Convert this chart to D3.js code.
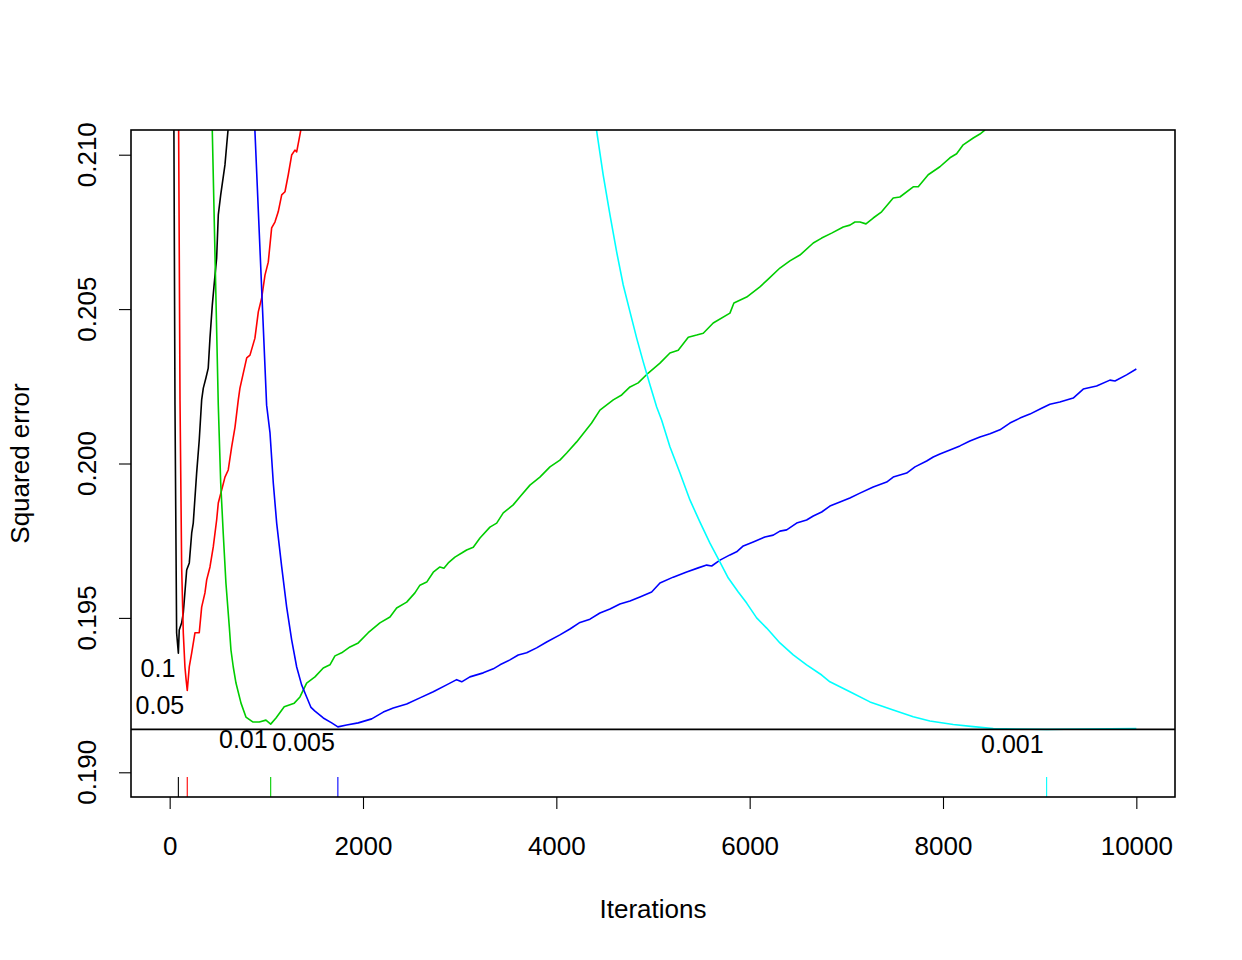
<!DOCTYPE html>
<html><head><meta charset="utf-8">
<script src="https://cdn.jsdelivr.net/npm/d3@7/dist/d3.min.js"></script>
<style>
body{margin:0;background:#fff}
svg{display:block}
text{font-family:"Liberation Sans",Arial,Helvetica,sans-serif;fill:#000}
</style>
</head><body>
<svg id="chart" width="1242" height="960"></svg>
<script>
// ---- data ----
const rates = ["0.1", "0.05", "0.01", "0.005", "0.001"];
const colors = ["#000000", "#FF0000", "#00CD00", "#0000FF", "#00FFFF"];
const xTicks = [0, 2000, 4000, 6000, 8000, 10000];
const yTicks = [0.190, 0.195, 0.200, 0.205, 0.210];
const yTickLabels = ["0.190", "0.195", "0.200", "0.205", "0.210"];
const xTitle = "Iterations";
const yTitle = "Squared error";

// [iteration, squared error]
const err_0_1 = [[43,0.2115],[55,0.20189],[72,0.19451],[86,0.19400],[90,0.19386],[99,0.19461],[124,0.19484],[141,0.19516],[176,0.19655],[203,0.19678],[228,0.19775],[244,0.19807],[279,0.19969],[306,0.20076],[331,0.20206],[348,0.20244],[375,0.20277],[399,0.20309],[417,0.20406],[441,0.20513],[458,0.20572],[486,0.20666],[503,0.20805],[528,0.20870],[572,0.20967],[590,0.21032],[603,0.21077],[640,0.2125]];

const err_0_05 = [[90,0.2125],[107,0.20206],[124,0.19665],[141,0.19451],[158,0.19341],[170,0.19300],[182,0.19265],[203,0.19342],[228,0.19387],[262,0.19452],[306,0.19452],[331,0.19535],[365,0.19581],[383,0.19623],[417,0.19665],[451,0.19730],[486,0.19817],[503,0.19872],[538,0.19914],[572,0.19956],[606,0.19979],[641,0.20053],[676,0.20118],[710,0.20206],[727,0.20244],[797,0.20342],[831,0.20351],[882,0.20406],[917,0.20491],[952,0.20536],[986,0.20610],[1020,0.20652],[1055,0.20763],[1089,0.20782],[1123,0.20815],[1159,0.20870],[1193,0.20880],[1227,0.20935],[1262,0.20999],[1296,0.21015],[1314,0.21009],[1341,0.21054],[1355,0.21077],[1400,0.2115]];

const err_0_01 = [[430,0.2125],[441,0.21077],[503,0.20189],[528,0.19937],[554,0.19775],[582,0.19613],[617,0.19471],[634,0.19396],[658,0.19341],[686,0.19289],[738,0.19224],[789,0.19179],[859,0.19163],[927,0.19163],[996,0.19169],[1045,0.19156],[1100,0.19176],[1185,0.19212],[1289,0.19224],[1348,0.19244],[1417,0.19289],[1503,0.19309],[1589,0.19338],[1658,0.19348],[1710,0.19377],[1779,0.19387],[1865,0.19406],[1951,0.19419],[2054,0.19452],[2175,0.19484],[2279,0.19503],[2348,0.19532],[2452,0.19551],[2537,0.19581],[2589,0.19606],[2659,0.19616],[2727,0.19648],[2796,0.19665],[2837,0.19661],[2882,0.19678],[2951,0.19697],[3021,0.19710],[3072,0.19720],[3141,0.19729],[3210,0.19759],[3313,0.19794],[3383,0.19807],[3451,0.19840],[3554,0.19866],[3624,0.19892],[3727,0.19930],[3830,0.19956],[3934,0.19989],[4037,0.20011],[4107,0.20034],[4210,0.20070],[4365,0.20131],[4451,0.20173],[4589,0.20206],[4676,0.20222],[4762,0.20248],[4847,0.20261],[4951,0.20293],[5072,0.20325],[5175,0.20358],[5261,0.20367],[5365,0.20409],[5452,0.20416],[5520,0.20422],[5623,0.20455],[5796,0.20487],[5837,0.20520],[5969,0.20539],[6106,0.20572],[6192,0.20597],[6313,0.20633],[6416,0.20656],[6520,0.20675],[6658,0.20714],[6745,0.20730],[6848,0.20746],[6968,0.20766],[7037,0.20772],[7089,0.20782],[7141,0.20782],[7203,0.20776],[7278,0.20795],[7365,0.20815],[7485,0.20860],[7554,0.20863],[7692,0.20896],[7744,0.20896],[7847,0.20935],[7968,0.20961],[8072,0.20990],[8141,0.21003],[8209,0.21032],[8313,0.21054],[8382,0.21067],[8423,0.21077],[8550,0.2112]];

const err_0_005 = [[870,0.2125],[882,0.21077],[1003,0.20189],[1038,0.20099],[1072,0.19937],[1107,0.19807],[1159,0.19665],[1210,0.19536],[1262,0.19429],[1314,0.19341],[1365,0.19283],[1417,0.19244],[1462,0.19210],[1503,0.19198],[1589,0.19176],[1676,0.19160],[1740,0.19147],[1831,0.19153],[1951,0.19160],[2090,0.19173],[2210,0.19195],[2313,0.19208],[2452,0.19221],[2589,0.19241],[2727,0.19261],[2865,0.19283],[2969,0.19300],[3021,0.19293],[3106,0.19309],[3244,0.19322],[3348,0.19335],[3417,0.19348],[3520,0.19364],[3606,0.19380],[3693,0.19387],[3796,0.19403],[3900,0.19422],[4037,0.19445],[4141,0.19464],[4237,0.19484],[4348,0.19496],[4451,0.19516],[4555,0.19529],[4658,0.19545],[4762,0.19555],[4865,0.19568],[4986,0.19584],[5072,0.19613],[5209,0.19632],[5348,0.19649],[5468,0.19662],[5555,0.19671],[5607,0.19668],[5693,0.19687],[5796,0.19704],[5865,0.19714],[5934,0.19733],[6037,0.19746],[6158,0.19762],[6244,0.19768],[6313,0.19781],[6383,0.19785],[6486,0.19807],[6589,0.19817],[6658,0.19830],[6745,0.19843],[6830,0.19862],[6934,0.19875],[7037,0.19888],[7141,0.19904],[7278,0.19924],[7417,0.19940],[7485,0.19956],[7624,0.19969],[7710,0.19989],[7831,0.20008],[7899,0.20021],[7968,0.20031],[8072,0.20044],[8175,0.20057],[8278,0.20073],[8382,0.20086],[8486,0.20096],[8589,0.20109],[8692,0.20131],[8796,0.20147],[8899,0.20160],[9020,0.20179],[9106,0.20192],[9209,0.20199],[9347,0.20212],[9451,0.20241],[9589,0.20251],[9727,0.20270],[9779,0.20267],[9899,0.20287],[10000,0.20306]];

const err_0_001 = [[4350,0.2125],[4417,0.21077],[4485,0.20934],[4555,0.20805],[4624,0.20685],[4692,0.20578],[4762,0.20491],[4831,0.20406],[4899,0.20329],[4969,0.20254],[5038,0.20183],[5089,0.20141],[5175,0.20054],[5279,0.19969],[5382,0.19882],[5486,0.19810],[5589,0.19742],[5693,0.19681],[5779,0.19629],[5882,0.19584],[5969,0.19548],[6072,0.19500],[6176,0.19467],[6313,0.19419],[6451,0.19380],[6589,0.19348],[6745,0.19315],[6830,0.19293],[7037,0.19261],[7244,0.19228],[7485,0.19202],[7692,0.19180],[7864,0.19166],[8106,0.19155],[8313,0.19148],[8520,0.19142],[8762,0.19140],[9072,0.19139],[9451,0.19140],[10000,0.19142]];

const seriesList = [err_0_1, err_0_05, err_0_01, err_0_005, err_0_001];

// ---- layout ----
const L = 131, R = 1175, T = 130, B = 797;
const svg = d3.select("#chart");
const x = d3.scaleLinear().domain([-400, 10400]).range([L, R]);
const y = d3.scaleLinear().domain([0.1892, 0.2108]).range([B, T]);

svg.append("defs").append("clipPath").attr("id", "plotclip")
  .append("rect").attr("x", L).attr("y", T).attr("width", R - L).attr("height", B - T);

const plot = svg.append("g").attr("clip-path", "url(#plotclip)");
const line = d3.line().x(d => x(d[0])).y(d => y(d[1]));

seriesList.forEach((s, i) => {
  plot.append("path").datum(s)
    .attr("d", line)
    .attr("fill", "none")
    .attr("stroke", colors[i])
    .attr("stroke-width", 1.6)
    .attr("stroke-linejoin", "round");
});

// minima
const minima = seriesList.map(s => s.reduce((a, b) => (b[1] < a[1] ? b : a)));
const globalMin = d3.min(minima, d => d[1]);

plot.append("line")
  .attr("x1", L).attr("x2", R)
  .attr("y1", y(globalMin)).attr("y2", y(globalMin))
  .attr("stroke", "#000").attr("stroke-width", 1.6);

// rug at argmin
const rugLen = 0.03 * (B - T);
minima.forEach((m, i) => {
  svg.append("line")
    .attr("x1", x(m[0])).attr("x2", x(m[0]))
    .attr("y1", B).attr("y2", B - rugLen)
    .attr("stroke", colors[i]).attr("stroke-width", 1.1);
});

// labels at minima
minima.forEach((m, i) => {
  svg.append("text")
    .attr("x", x(m[0]) - 3)
    .attr("y", y(m[1]) + 24)
    .attr("text-anchor", "end")
    .attr("font-size", 25)
    .text(rates[i]);
});

// box
svg.append("rect").attr("x", L).attr("y", T).attr("width", R - L).attr("height", B - T)
  .attr("fill", "none").attr("stroke", "#000").attr("stroke-width", 1.6);

// x axis
const xAxis = svg.append("g").attr("transform", `translate(0,${B})`)
  .call(d3.axisBottom(x).tickValues(xTicks).tickFormat(d3.format("d"))
    .tickSize(12).tickSizeOuter(0).tickPadding(28));
xAxis.select(".domain").remove();
xAxis.selectAll("line").attr("stroke", "#000").attr("stroke-width", 1.1);
xAxis.selectAll("text").attr("font-size", 26).attr("font-family", '"Liberation Sans",Arial,sans-serif');

// y axis
const yAxis = svg.append("g").attr("transform", `translate(${L},0)`)
  .call(d3.axisLeft(y).tickValues(yTicks).tickFormat("").tickSize(12).tickSizeOuter(0));
yAxis.select(".domain").remove();
yAxis.selectAll("line").attr("stroke", "#000").attr("stroke-width", 1.1);

svg.append("g").selectAll("text").data(yTicks).join("text")
  .attr("transform", d => `translate(96,${y(d)}) rotate(-90)`)
  .attr("text-anchor", "middle")
  .attr("font-size", 26)
  .text((d, i) => yTickLabels[i]);

// titles
svg.append("text").attr("x", (L + R) / 2).attr("y", 918)
  .attr("text-anchor", "middle").attr("font-size", 26).text(xTitle);
svg.append("text").attr("transform", `translate(29,${(T + B) / 2}) rotate(-90)`)
  .attr("text-anchor", "middle").attr("font-size", 26).text(yTitle);
</script>
</body></html>
